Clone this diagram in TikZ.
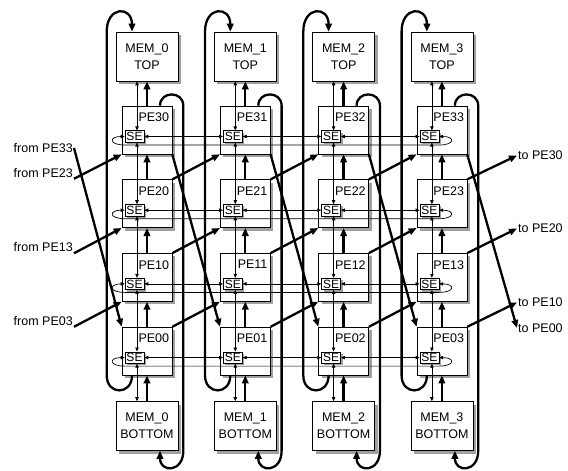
\documentclass[tikz,border=0pt]{standalone}
\usepackage{fontspec}
\setmainfont{Liberation Sans}
\usetikzlibrary{arrows.meta,shadows}
\definecolor{ShadowGray}{HTML}{A0A0A0}

\begin{document}
\begin{tikzpicture}[
  x=1pt, y=-1pt,
  font=\fontsize{12.5}{17}\selectfont,
  % ── gray drop shadow behind every box ────────────────────────────────────
  boxshadow/.style={drop shadow={shadow xshift=#1, shadow yshift=-#1,
                    fill=ShadowGray, opacity=1}},
  % ── memory bank (top / bottom of a column) ───────────────────────────────
  membox/.style={draw, fill=white, boxshadow=3pt, line width=0.6pt,
                 minimum width=62pt, minimum height=49pt,
                 align=center, inner sep=0pt},
  % ── processing element and its switch ────────────────────────────────────
  pebox/.style={draw, fill=white, boxshadow=3pt, line width=0.6pt,
                minimum width=50pt, minimum height=48pt, inner sep=0pt},
  pename/.style={anchor=north east, xshift=-3pt, yshift=-7pt, inner sep=0pt},
  sebox/.style={draw, fill=white, boxshadow=2pt, line width=0.6pt,
                minimum width=19pt, minimum height=11.5pt, inner sep=0pt,
                font=\fontsize{12}{12}\selectfont},
  % ── wrap-around labels at the sides ──────────────────────────────────────
  wrapnote/.style={inner sep=1pt},
  % ── connectors ───────────────────────────────────────────────────────────
  link/.style={{Triangle[length=4pt,width=3.4pt]}-{Triangle[length=4pt,width=3.4pt]},
               line width=0.7pt},
  flow/.style={-{Triangle[length=8pt,width=6.5pt]}, line width=2.3pt},
]
\useasboundingbox (0,0) rectangle (568,471);

%% ── Memory banks and the 4x4 PE grid (row 3 on top) ──────────────────────
\foreach \c in {0,...,3}{
  \pgfmathsetmacro\px{147+98.3*\c}
  \node[membox] (MT\c) at (\px,56.5) {MEM\_\c\\TOP};
  \node[membox] (MB\c) at (\px,426)  {MEM\_\c\\BOTTOM};
  \foreach \r in {0,...,3}{
    \pgfmathsetmacro\py{130+73.7*(3-\r)}
    \node[pebox, label={[pename]north east:PE\r\c}] (PE\r\c) at (\px,\py) {};
    \node[sebox] (SE\r\c) at (\px-12.5,\py+6.5) {SE};
  }
}

%% ── Side labels for the wrapped diagonals ────────────────────────────────
\node[wrapnote, anchor=east] (from33) at (74,148)   {from PE33};
\node[wrapnote, anchor=east] (from23) at (74,173)   {from PE23};
\node[wrapnote, anchor=east] (from13) at (74,247.5) {from PE13};
\node[wrapnote, anchor=east] (from03) at (74,321)   {from PE03};
\node[wrapnote, anchor=west] (to30) at (517,155.5) {to PE30};
\node[wrapnote, anchor=west] (to20) at (517,228.5) {to PE20};
\node[wrapnote, anchor=west] (to10) at (517,302.5) {to PE10};
\node[wrapnote, anchor=west] (to00) at (517,328)   {to PE00};

%% ── Column links: switches (thin) and upward data flow (thick) ──────────
\foreach \c in {0,...,3}{
  \draw[link] ([xshift=2.5pt]SE3\c.north) -- ([xshift=2.5pt]SE3\c.north |- MT\c.south);
  \draw[link] ([xshift=2.5pt]SE0\c.south) -- ([xshift=2.5pt]SE0\c.south |- MB\c.north);
  \draw[flow] (PE3\c.north) -- (MT\c.south);
  \draw[flow] (MB\c.north) -- (PE0\c.south);
  \foreach \r/\q in {0/1,1/2,2/3}{
    \draw[link] ([xshift=2.5pt]SE\r\c.north) -- ([xshift=2.5pt]SE\q\c.south);
    \draw[flow] (PE\r\c.north) -- (PE\q\c.south);
  }
}

%% ── Row links between switches, with the ring wrap-around ───────────────
\foreach \r in {0,...,3}{
  \foreach \c/\cn in {0/1,1/2,2/3}
    \draw[link] (SE\r\c.east) -- (SE\r\cn.west);
  \draw[link] (SE\r0.west) .. controls +(-16,0) and +(-16,0) .. ([yshift=-8.5pt]SE\r0.west)
    -- ([yshift=-8.5pt]SE\r3.east) .. controls +(16,0) and +(16,0) .. (SE\r3.east);
}

%% ── Diagonals PE(r,c) -> PE(r+1,c+1) ────────────────────────────────────
\foreach \r/\q in {0/1,1/2,2/3}{
  \foreach \c/\cn in {0/1,1/2,2/3}
    \draw[flow] (PE\r\c.north east) -- (PE\q\cn.south west);
}
\foreach \c/\cn in {0/1,1/2,2/3}
  \draw[flow] (PE3\c.south east) -- (PE0\cn.north west);

\draw[flow] (from33.east)       -- (PE00.north west);
\draw[flow] (from23.south east) -- (PE30.south west);
\draw[flow] (from13.south east) -- (PE20.south west);
\draw[flow] (from03.south east) -- (PE10.south west);
\draw[flow] (PE23.north east) -- (to30.west);
\draw[flow] (PE13.north east) -- (to20.west);
\draw[flow] (PE03.north east) -- (to10.west);
\draw[flow] (PE33.south east) -- (to00.west);

%% ── Column loops: PE0x -> MEM_x TOP, PE3x -> MEM_x BOTTOM ────────────────
\foreach \c in {0,...,3}{
  \draw[flow] ([xshift=-15pt]PE0\c.south)
      .. controls +(0,20) and +(0,20) .. ([xshift=-9pt]MT\c.west |- PE0\c.south)
      -- ([xshift=-9pt]MT\c.west |- MT\c.north)
      .. controls +(0,-26) and +(0,-26) .. ([xshift=-15pt]MT\c.north);
  \draw[flow] ([xshift=13pt]PE3\c.north)
      .. controls +(0,-15) and +(0,-15) .. ([xshift=5pt]MT\c.east |- PE3\c.north)
      -- ([xshift=5pt]MB\c.east |- MB\c.south)
      .. controls +(0,22) and +(0,22) .. ([xshift=13pt]MB\c.south);
}

\end{tikzpicture}
\end{document}
